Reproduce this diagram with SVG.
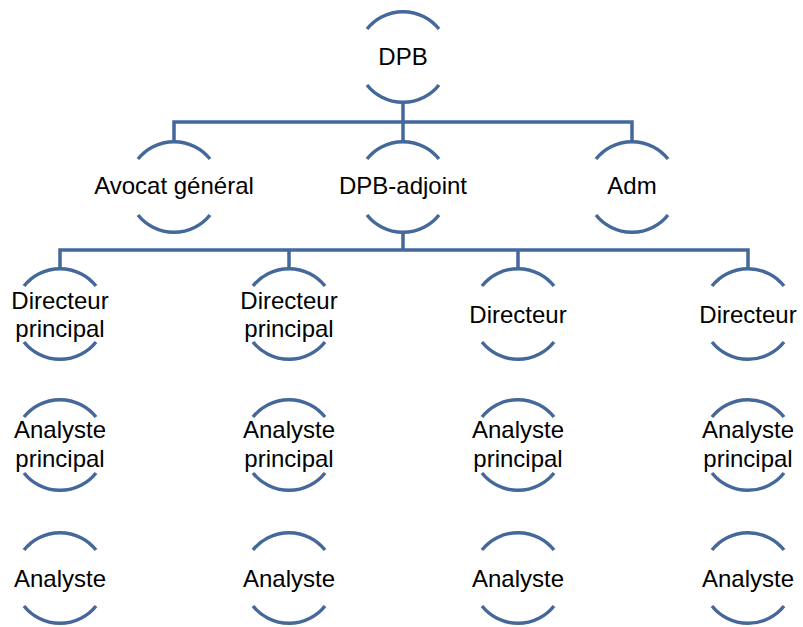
<svg xmlns="http://www.w3.org/2000/svg" width="803" height="627" viewBox="0 0 803 627">
<defs>
<style>
.arc{fill:none;stroke:#44689A;stroke-width:3.5;stroke-linecap:butt}
.ln{fill:none;stroke:#44689A;stroke-width:3.5;stroke-linejoin:miter}
text{font-family:"Liberation Sans",Arial,sans-serif;font-size:24px;fill:#000;text-anchor:middle}
</style>
<path id="ring" class="arc" d="M-36,-28 A46,46 0 0 1 36,-28 M-36,28 A46,46 0 0 0 36,28"/>
</defs>
<rect width="803" height="627" fill="#fff"/>
<g id="connectors">
<path class="ln" d="M403,103 V122 M174,141 V122 H632 V141 M403,122 V141"/>
<path class="ln" d="M403,233 V250 M60,268 V250 H748 V268 M289,250 V268 M518,250 V268"/>
</g>
<g id="n-dpb"><use href="#ring" x="403" y="57"/><text x="403" y="65">DPB</text></g>
<g id="n-avocat"><use href="#ring" x="174" y="187"/><text x="174" y="194">Avocat général</text></g>
<g id="n-adjoint"><use href="#ring" x="403" y="187"/><text x="403" y="194">DPB-adjoint</text></g>
<g id="n-adm"><use href="#ring" x="632" y="187"/><text x="632" y="194">Adm</text></g>
<g id="n-dp1"><use href="#ring" x="60" y="314"/><text x="60" y="309">Directeur</text><text x="60" y="337">principal</text></g>
<g id="n-dp2"><use href="#ring" x="289" y="314"/><text x="289" y="309">Directeur</text><text x="289" y="337">principal</text></g>
<g id="n-d3"><use href="#ring" x="518" y="314"/><text x="518" y="323">Directeur</text></g>
<g id="n-d4"><use href="#ring" x="748" y="314"/><text x="748" y="323">Directeur</text></g>
<g id="n-ap1"><use href="#ring" x="60" y="445"/><text x="60" y="438">Analyste</text><text x="60" y="467">principal</text></g>
<g id="n-ap2"><use href="#ring" x="289" y="445"/><text x="289" y="438">Analyste</text><text x="289" y="467">principal</text></g>
<g id="n-ap3"><use href="#ring" x="518" y="445"/><text x="518" y="438">Analyste</text><text x="518" y="467">principal</text></g>
<g id="n-ap4"><use href="#ring" x="748" y="445"/><text x="748" y="438">Analyste</text><text x="748" y="467">principal</text></g>
<g id="n-a1"><use href="#ring" x="60" y="578"/><text x="60" y="587">Analyste</text></g>
<g id="n-a2"><use href="#ring" x="289" y="578"/><text x="289" y="587">Analyste</text></g>
<g id="n-a3"><use href="#ring" x="518" y="578"/><text x="518" y="587">Analyste</text></g>
<g id="n-a4"><use href="#ring" x="748" y="578"/><text x="748" y="587">Analyste</text></g>
</svg>
